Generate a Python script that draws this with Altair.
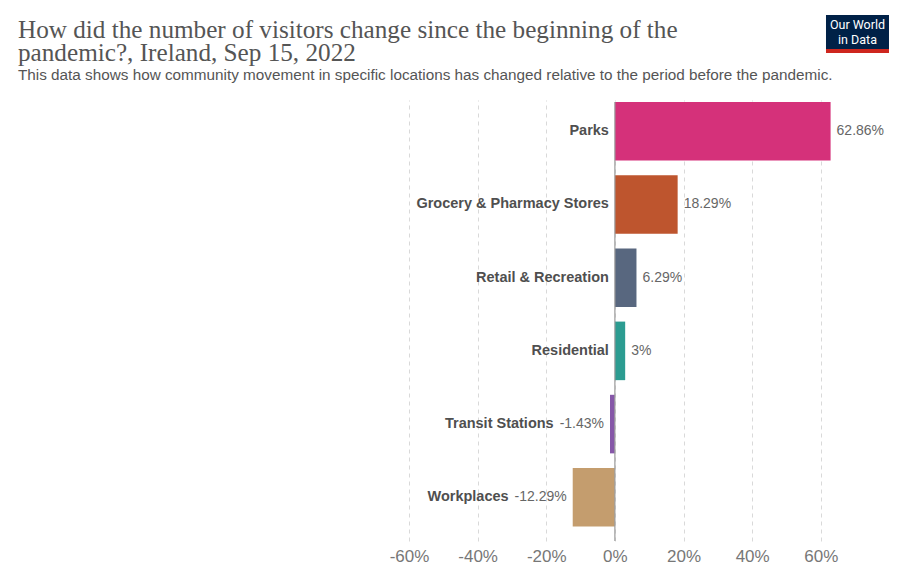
import altair as alt
import pandas as pd

categories = ["Parks", "Grocery & Pharmacy Stores", "Retail & Recreation",
              "Residential", "Transit Stations", "Workplaces"]
values = [62.86, 18.29, 6.29, 3.0, -1.43, -12.29]
value_labels = ["62.86%", "18.29%", "6.29%", "3%", "-1.43%", "-12.29%"]
colors = ["#D5317A", "#BE552E", "#58677F", "#2C9C91", "#8657A8", "#C49D6E"]
tick_values = [-60, -40, -20, 0, 20, 40, 60]

title_line1 = "How did the number of visitors change since the beginning of the"
title_line2 = "pandemic?, Ireland, Sep 15, 2022"
subtitle = "This data shows how community movement in specific locations has changed relative to the period before the pandemic."

W, H = 421.6, 441
XMIN, XMAX = -60, 62.86
PPU = W / (XMAX - XMIN)  # pixels per percentage point

# approximate Liberation Sans advance widths (em) to place labels of negative bars
_w = {c: 0.556 for c in "0123456789"}
_w.update({".": 0.278, "%": 0.889, "-": 0.333})
def text_width(s, size=14):
    return sum(_w.get(c, 0.556) for c in s) * size

df = pd.DataFrame({"category": categories, "value": values,
                   "label": value_labels, "color": colors})
cat_off_px = [(-6 if v >= 0 else -(6 + text_width(l) + 6)) for v, l in zip(values, value_labels)]
df["cat_pos"] = df["value"].clip(upper=0) + pd.Series(cat_off_px) / PPU

xscale = alt.Scale(domain=[XMIN, XMAX], nice=False, zero=False)
yenc = alt.Y("category:N", sort=categories,
             scale=alt.Scale(paddingInner=0.2, paddingOuter=0.112, align=0.12), axis=None)

bars = alt.Chart(df).mark_bar().encode(
    x=alt.X("value:Q", scale=xscale,
            axis=alt.Axis(values=tick_values, labelExpr="datum.value + '%'",
                          grid=True, gridDash=[4, 4], gridColor="#d9d9d9",
                          domain=False, ticks=False, labelFontSize=17, labelFlush=False,
                          labelColor="#777777", labelPadding=8, title=None,
                          labelFont="Liberation Sans")),
    x2=alt.datum(0),
    y=yenc,
    color=alt.Color("color:N", scale=None),
)

zero = alt.Chart(pd.DataFrame({"z": [0]})).mark_rule(color="#9a9a9a", strokeWidth=1.2).encode(
    x=alt.X("z:Q", scale=xscale), y=alt.value(2), y2=alt.value(H))

pos = df[df.value >= 0]
neg = df[df.value < 0]

val_pos = alt.Chart(pos).mark_text(align="left", baseline="middle", dx=6, fontSize=14,
                                   color="#666666", font="Liberation Sans").encode(
    x=alt.X("value:Q", scale=xscale), y=yenc, text="label:N")
val_neg = alt.Chart(neg).mark_text(align="right", baseline="middle", dx=-6, fontSize=14,
                                   color="#666666", font="Liberation Sans").encode(
    x=alt.X("value:Q", scale=xscale), y=yenc, text="label:N")

cats = alt.Chart(df).mark_text(align="right", baseline="middle", fontSize=14.5, fontWeight="bold",
                               color="#4f4f4f", font="Liberation Sans").encode(
    x=alt.X("cat_pos:Q", scale=xscale), y=yenc, text="category:N")

def txt(s, x, y, **kw):
    return alt.Chart(pd.DataFrame({"t": [s]})).mark_text(**kw).encode(
        x=alt.value(x), y=alt.value(y), text="t:N")

title1 = txt(title_line1, -391, -62, align="left", baseline="alphabetic", fontSize=25.2,
             font="Liberation Serif", color="#555555")
title2 = txt(title_line2, -391, -39, align="left", baseline="alphabetic", fontSize=25.2,
             font="Liberation Serif", color="#555555")
sub = txt(subtitle, -391, -20, align="left", baseline="alphabetic", fontSize=15.3,
          font="Liberation Sans", color="#555555")

# logo (decoration, pixel positions)
logo_rect = alt.Chart(pd.DataFrame({"a": [0]})).mark_rect(color="#002147").encode(
    x=alt.value(417), x2=alt.value(480), y=alt.value(-85), y2=alt.value(-51))
logo_red = alt.Chart(pd.DataFrame({"a": [0]})).mark_rect(color="#CE261E").encode(
    x=alt.value(417), x2=alt.value(480), y=alt.value(-51), y2=alt.value(-47))
logo_t1 = txt("Our World", 448.5, -75, color="white", fontSize=12.5, font="Roboto",
              align="center", baseline="middle")
logo_t2 = txt("in Data", 448.5, -60, color="white", fontSize=12.5, font="Roboto",
              align="center", baseline="middle")

chart = alt.layer(bars, zero, val_pos, val_neg, cats, title1, title2, sub,
                  logo_rect, logo_red, logo_t1, logo_t2).properties(
    width=W, height=H,
    padding={"left": 401, "top": 92, "right": 60, "bottom": 31},
    autosize=alt.AutoSizeParams(type="none"),
).configure_view(stroke=None)

chart.save("out.html", embed_options={"renderer": "svg", "actions": False})
